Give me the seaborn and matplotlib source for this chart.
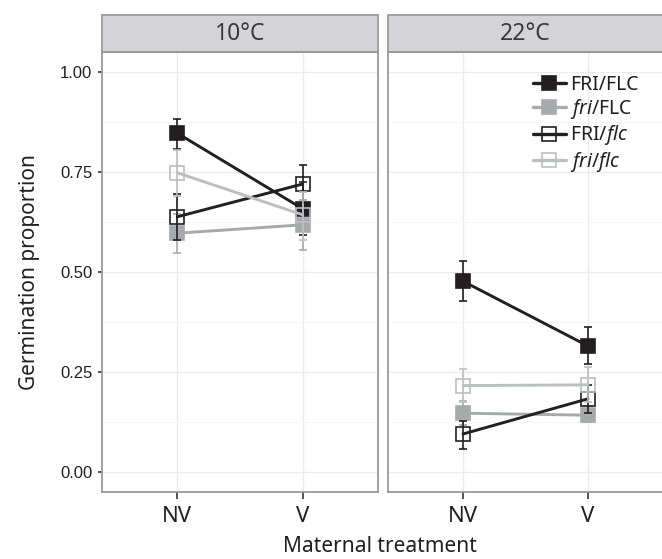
import matplotlib
matplotlib.use("Agg")
import numpy as np
import pandas as pd
import seaborn as sns
from matplotlib import pyplot as plt
from matplotlib.patches import Rectangle
from matplotlib.lines import Line2D

temps = ["10°C", "22°C"]
treatments = ["NV", "V"]
genotypes = ["FRI/FLC", "fri/FLC", "FRI/flc", "fri/flc"]
legend_labels = ["FRI/FLC", r"$\mathit{fri}$/FLC", r"FRI/$\mathit{flc}$", r"$\mathit{fri/flc}$"]

# mean germination proportion, [NV, V] for each genotype
prop_10 = [[0.847, 0.658], [0.597, 0.618], [0.638, 0.720], [0.748, 0.643]]
low_10 = [[0.808, 0.592], [0.548, 0.555], [0.580, 0.672], [0.690, 0.580]]
high_10 = [[0.882, 0.725], [0.645, 0.680], [0.695, 0.768], [0.805, 0.700]]

prop_22 = [[0.477, 0.315], [0.147, 0.142], [0.095, 0.183], [0.216, 0.218]]
low_22 = [[0.428, 0.270], [0.117, 0.125], [0.058, 0.148], [0.175, 0.175]]
high_22 = [[0.527, 0.362], [0.178, 0.165], [0.128, 0.218], [0.257, 0.262]]

colors = ["#231f20", "#a7a9ac", "#231f20", "#bcbec0"]
filled = [True, True, False, False]

rows = []
for temp, prop, low, high in [(temps[0], prop_10, low_10, high_10),
                              (temps[1], prop_22, low_22, high_22)]:
    for g, geno in enumerate(genotypes):
        for t, treat in enumerate(treatments):
            rows.append(dict(temp=temp, genotype=geno, treatment=treat, pos=t,
                             prop=prop[g][t], low=low[g][t], high=high[g][t]))
df = pd.DataFrame(rows)

sns.set_theme(style="white")
plt.rcParams["font.family"] = ["Liberation Sans", "DejaVu Sans"]
plt.rcParams["mathtext.fontset"] = "custom"
plt.rcParams["mathtext.it"] = "Noto Sans:italic"
plt.rcParams["mathtext.rm"] = "Noto Sans"

g = sns.FacetGrid(df, col="temp", col_order=temps, sharey=True, despine=False)
fig = g.figure
fig.set_size_inches(6.62, 5.59)
fig.set_dpi(100)

W, H = 662, 559
positions = [(102, 378), (388, 663)]
top_px, bot_px = 52, 492

for ax, temp, (x0, x1) in zip(g.axes.flat, temps, positions):
    ax.set_position([x0 / W, 1 - bot_px / H, (x1 - x0) / W, (bot_px - top_px) / H])
    sub = df[df["temp"] == temp]
    for i, geno in enumerate(genotypes):
        d = sub[sub["genotype"] == geno]
        ax.errorbar(d["pos"], d["prop"],
                    yerr=[d["prop"] - d["low"], d["high"] - d["prop"]],
                    fmt="none", ecolor=colors[i], elinewidth=1.2, capsize=3,
                    capthick=1.2, zorder=2 + i)
        sns.lineplot(data=d, x="pos", y="prop", ax=ax, color=colors[i],
                     linewidth=2.1, marker="s", markersize=10.5,
                     markerfacecolor=colors[i] if filled[i] else "none",
                     markeredgecolor=colors[i], markeredgewidth=1.2,
                     zorder=3 + i, legend=False)

    ax.set_xlim(-0.6, 1.6)
    ax.set_ylim(-0.05, 1.05)
    ax.set_xticks([0, 1])
    ax.set_xticklabels(treatments, fontsize=16, family="Noto Sans", color="#231f20")
    ax.set_yticks([0, 0.25, 0.5, 0.75, 1.0])
    ax.set_yticks([0.125, 0.375, 0.625, 0.875], minor=True)
    ax.grid(True, which="major", color="#ebebeb", linewidth=1.0)
    ax.grid(True, which="minor", axis="y", color="#f6f6f6", linewidth=0.7)
    ax.set_axisbelow(True)
    for s in ax.spines.values():
        s.set_color("#9a9a9c")
        s.set_linewidth(1.3)
    ax.tick_params(axis="x", which="major", length=5, width=1.2, color="#333333",
                   bottom=True, pad=5)
    ax.tick_params(axis="y", which="minor", length=0)
    ax.set_xlabel("")
    ax.set_ylabel("")
    ax.set_title("")

    strip_h = 37 / (bot_px - top_px)
    ax.add_patch(Rectangle((0, 1), 1, strip_h, transform=ax.transAxes,
                           facecolor="#d4d4d6", edgecolor="#9a9a9c",
                           linewidth=1.3, clip_on=False))
    ax.text(0.5, 1 + strip_h / 2, temp, transform=ax.transAxes, ha="center",
            va="center", fontsize=16.5, family="Noto Sans", color="#3a3a3a")

ax0, ax1 = g.axes.flat
ax0.set_yticklabels(["0.00", "0.25", "0.50", "0.75", "1.00"], fontsize=12,
                    color="#231f20")
ax0.tick_params(axis="y", which="major", length=3, width=1.2, color="#333333",
                left=True, pad=4)
ax1.tick_params(axis="y", which="major", length=0, labelleft=False)

fig.text(30 / W, 1 - 272 / H, "Germination proportion", rotation=90, ha="center",
         va="center", fontsize=15, family="Noto Sans", color="#231f20")
fig.text(380 / W, 1 - 546 / H, "Maternal treatment", ha="center", va="center",
         fontsize=15, family="Noto Sans", color="#231f20")

handles = [Line2D([0], [0], color=colors[i], linewidth=2.4, marker="s",
                  markersize=10.5,
                  markerfacecolor=colors[i] if filled[i] else "none",
                  markeredgecolor=colors[i], markeredgewidth=1.2)
           for i in range(4)]
leg = ax1.legend(handles, legend_labels, loc="upper left",
                 bbox_to_anchor=((525 - 388) / 275, 1 - (67 - 52) / 440),
                 frameon=False, handlelength=1.7, handletextpad=0.2,
                 labelspacing=0.12, borderaxespad=0,
                 prop={"family": "Noto Sans", "size": 14})
for t in leg.get_texts():
    t.set_color("#231f20")

fig.savefig("out.png", dpi=100)
